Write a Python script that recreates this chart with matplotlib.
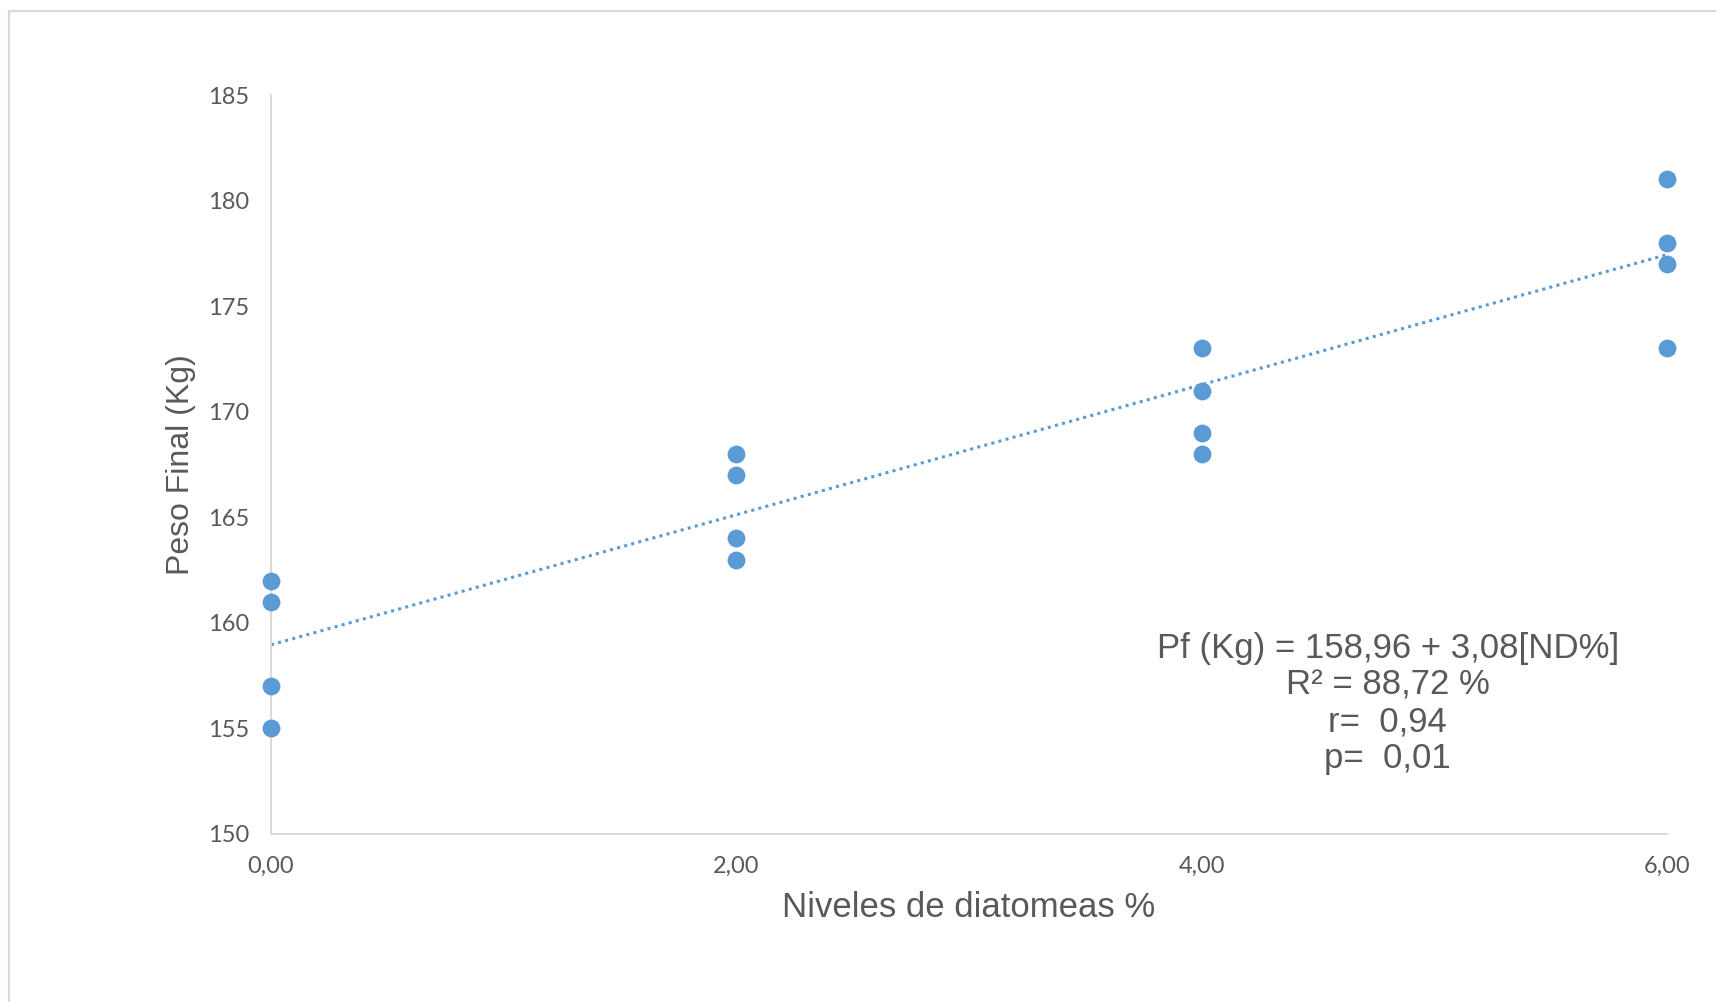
import numpy as np
import matplotlib.pyplot as plt
from matplotlib.patches import Rectangle
from matplotlib.ticker import FuncFormatter

# niveles de diatomeas (%) y peso final (kg)
nivel = [0, 0, 0, 0, 2, 2, 2, 2, 4, 4, 4, 4, 6, 6, 6, 6]
peso = [162, 161, 157, 155, 168, 167, 164, 163, 173, 171, 169, 168, 181, 178, 177, 173]

# recta ajustada Pf = a + b*ND
intercepto = 158.96
pendiente = 3.08
x_ticks = [0, 2, 4, 6]
y_ticks = [150, 155, 160, 165, 170, 175, 180, 185]

ecuacion = 'Pf (Kg) = 158,96 + 3,08[ND%]\nR² = 88,72 %\nr=  0,94\np=  0,01'

blue = '#5B9BD5'
gray = '#595959'
light = '#D9D9D9'

fig = plt.figure(figsize=(17.16, 10.02), dpi=100)
ax = fig.add_axes([271/1716, 1 - 834/1002, (1667-271)/1716, (834-95)/1002])

# marco exterior del grafico
fig.patches.append(Rectangle((9/1716, -0.1), 1.2, 1 - 11/1002 + 0.1,
                             transform=fig.transFigure, fill=False,
                             edgecolor=light, linewidth=1.6))

ax.scatter(nivel, peso, s=165, color=blue, zorder=3, linewidths=0, clip_on=False)

xs = np.array([0, 6])
ax.plot(xs, intercepto + pendiente * xs, color=blue, lw=2.2,
        linestyle=(0, (1, 1.4)), zorder=2)

ax.set_xlim(0, 6)
ax.set_ylim(150, 185)
ax.set_xticks(x_ticks)
ax.set_yticks(y_ticks)
ax.xaxis.set_major_formatter(FuncFormatter(lambda v, p: f'{v:.2f}'.replace('.', ',')))

for s in ['top', 'right']:
    ax.spines[s].set_visible(False)
for s in ['left', 'bottom']:
    ax.spines[s].set_color(light)
    ax.spines[s].set_linewidth(1.4)

ax.tick_params(axis='both', length=0, labelsize=17, colors=gray, pad=16)
for lab in ax.get_xticklabels() + ax.get_yticklabels():
    lab.set_family('Lato')

ax.set_xlabel('Niveles de diatomeas %', fontsize=25, color=gray,
              family='Liberation Sans', labelpad=10)
ax.set_ylabel('Peso Final (Kg)', fontsize=23, color=gray,
              family='Liberation Sans', labelpad=8)

ax.text(0.800, 0.177, ecuacion, transform=ax.transAxes, ha='center', va='center',
        multialignment='center', fontsize=25, color=gray,
        family='Liberation Sans', linespacing=1.14)

fig.savefig('out.png', dpi=100)
